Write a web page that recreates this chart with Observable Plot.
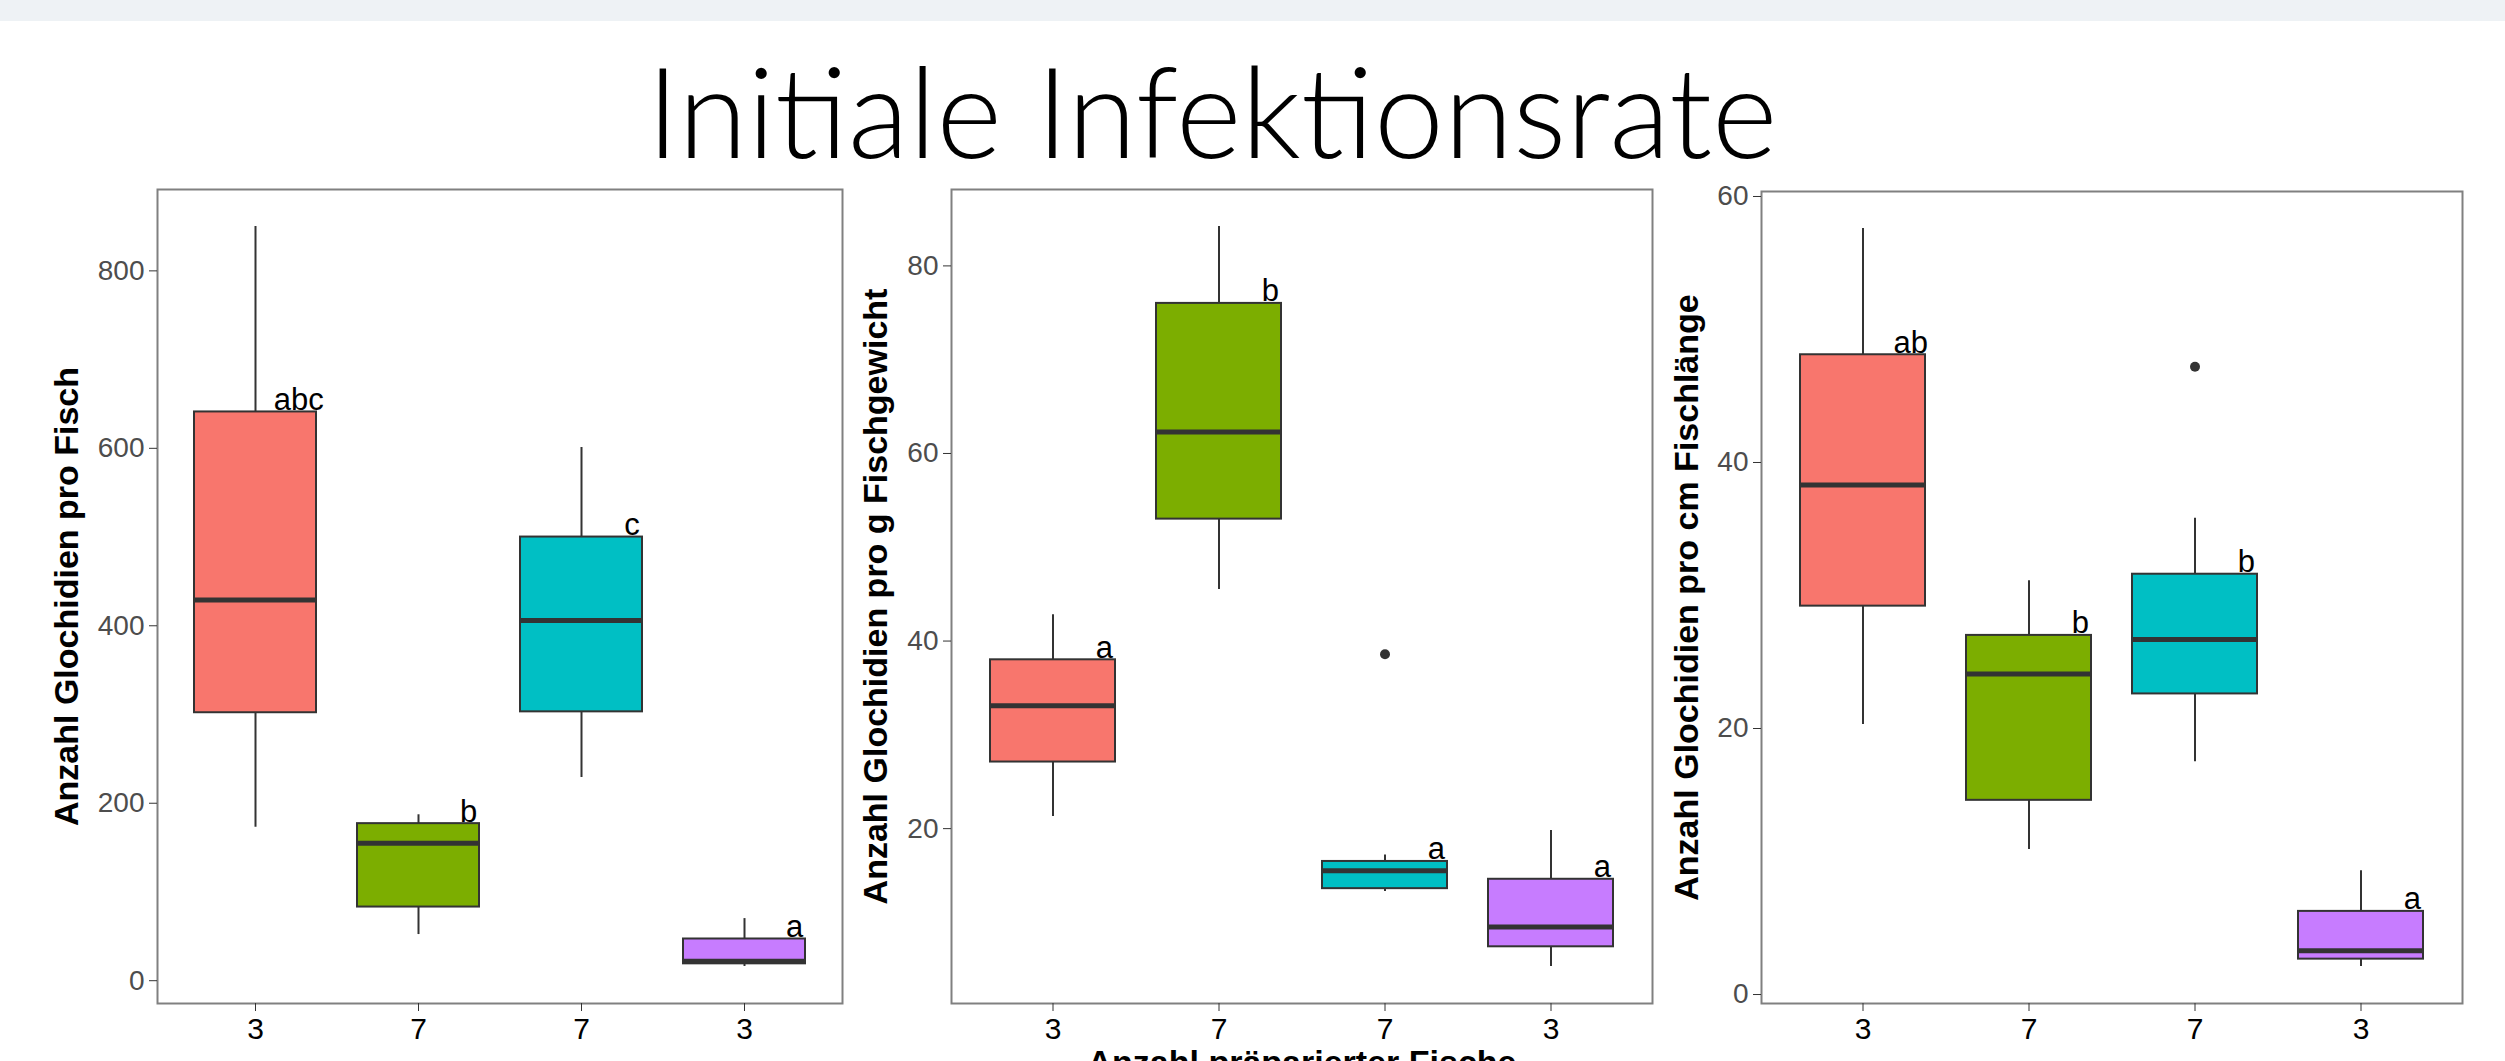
<!DOCTYPE html>
<html>
<head>
<meta charset="utf-8">
<script src="https://cdn.jsdelivr.net/npm/d3@7"></script>
<script src="https://cdn.jsdelivr.net/npm/@observablehq/plot@0.6"></script>
<style>
  html, body { margin: 0; padding: 0; background: #fff; }
  #page { position: relative; width: 2505px; height: 1061px; overflow: hidden; background: #fff; }
  #band { position: absolute; left: 0; top: 0; width: 2505px; height: 21px; background: #eef2f5; }
  #title { position: absolute; left: 0; top: 0; }
  .panel { position: absolute; top: 170px; }
</style>
</head>
<body>
<div id="page">
  <div id="band"></div>
  <svg id="title" width="2505" height="200"></svg>
  <div id="p1" class="panel" style="left:0px"></div>
  <div id="p2" class="panel" style="left:850px"></div>
  <div id="p3" class="panel" style="left:1660px"></div>
</div>
<script>
// ---------- data ----------
const chartTitle = "Initiale Infektionsrate";
const xTitle = "Anzahl präparierter Fische";
const groups = [0, 1, 2, 3];
const tickLabels = ["3", "7", "7", "3"];
const fillColors = ["#F8766D", "#7CAE00", "#00BFC4", "#C77CFF"];

// Panel 1: Anzahl Glochidien pro Fisch
const p1Title = "Anzahl Glochidien pro Fisch";
const p1Ticks = [0, 200, 400, 600, 800];
const p1Min = [173, 52, 229, 16];
const p1Q1  = [302, 83, 303, 19];
const p1Med = [429, 155, 406, 22];
const p1Q3  = [641, 177, 500, 47];
const p1Max = [850, 187, 601, 70];
const p1Letters = ["abc", "b", "c", "a"];
const p1OutGroup = [];
const p1OutValue = [];

// Panel 2: Anzahl Glochidien pro g Fischgewicht
const p2Title = "Anzahl Glochidien pro g Fischgewicht";
const p2Ticks = [20, 40, 60, 80];
const p2Min = [21.3, 45.5, 13.3, 5.3];
const p2Q1  = [27.1, 53.0, 13.6, 7.4];
const p2Med = [33.1, 62.3, 15.5, 9.5];
const p2Q3  = [38.0, 76.0, 16.5, 14.6];
const p2Max = [42.8, 84.2, 17.2, 19.8];
const p2Letters = ["a", "b", "a", "a"];
const p2OutGroup = [2];
const p2OutValue = [38.6];

// Panel 3: Anzahl Glochidien pro cm Fischlänge
const p3Title = "Anzahl Glochidien pro cm Fischlänge";
const p3Ticks = [0, 20, 40, 60];
const p3Min = [20.3, 10.9, 17.5, 2.1];
const p3Q1  = [29.2, 14.6, 22.6, 2.66];
const p3Med = [38.3, 24.1, 26.7, 3.3];
const p3Q3  = [48.1, 27.0, 31.6, 6.25];
const p3Max = [57.6, 31.1, 35.8, 9.3];
const p3Letters = ["ab", "b", "b", "a"];
const p3OutGroup = [2];
const p3OutValue = [47.2];

// ---------- title ----------
const ns = "http://www.w3.org/2000/svg";
const tsvg = document.getElementById("title");
const t = document.createElementNS(ns, "text");
t.setAttribute("x", 1212);
t.setAttribute("y", 158);
t.setAttribute("text-anchor", "middle");
t.setAttribute("font-family", "Lato, 'Liberation Sans', sans-serif");
t.setAttribute("font-weight", "300");
t.setAttribute("font-size", "127");
t.setAttribute("fill", "#000");
t.setAttribute("textLength", "1131");
t.setAttribute("lengthAdjust", "spacingAndGlyphs");
t.textContent = chartTitle;
tsvg.appendChild(t);

// ---------- panels ----------
const FONT = "'Liberation Sans', Arial, sans-serif";
const LETTER_SIZE = 31;
const ctx = document.createElement("canvas").getContext("2d");
ctx.font = `${LETTER_SIZE}px ${FONT}`;

function panel(o) {
  const rows = groups.map((g, i) => ({
    g, lo: o.min[i], q1: o.q1[i], med: o.med[i], q3: o.q3[i], hi: o.max[i],
    fill: fillColors[i], lab: o.letters[i]
  }));
  const outs = o.outGroup.map((g, i) => ({g, v: o.outValue[i]}));
  const all = [...o.min, ...o.max, ...o.outValue];
  const lo = d3.min(all), hi = d3.max(all), pad = (hi - lo) * 0.05;
  const frameW = o.width - o.marginLeft - o.marginRight;
  const step = frameW / 4.2;
  const marks = [
    Plot.frame({stroke: "#808080", strokeWidth: 2}),
    Plot.axisY({ticks: o.ticks, tickSize: 8, tickPadding: 5, fontSize: 28, fill: "#4d4d4d", stroke: "#333", label: null}),
    Plot.axisX({tickSize: 8, tickPadding: 6, fontSize: 30, fill: "#000", stroke: "#333", label: null, tickFormat: i => tickLabels[i]}),
    Plot.ruleX(rows, {x: "g", y1: "lo", y2: "hi", stroke: "#333", strokeWidth: 2}),
    Plot.barY(rows, {x: "g", y1: "q1", y2: "q3", fill: "fill", stroke: "#333", strokeWidth: 2}),
    Plot.tickY(rows, {x: "g", y: "med", stroke: "#333", strokeWidth: 5}),
    Plot.dot(outs, {x: "g", y: "v", r: 5, fill: "#333", stroke: null}),
    ...rows.map(r => Plot.text([r], {
      x: "g", y: "q3", text: "lab", textAnchor: "start", lineAnchor: "bottom",
      dx: step * 0.33 - 0.71 * ctx.measureText(r.lab).width, dy: -2,
      fontSize: LETTER_SIZE, fill: "#000"
    })),
    Plot.text([o.yTitle], {frameAnchor: "left", text: d => d, rotate: -90, dx: -o.yTitleOffset,
      textAnchor: "middle", lineAnchor: "middle", fontWeight: "bold", fontSize: 34, fill: "#000"})
  ];
  if (o.xTitle) {
    marks.push(Plot.text([o.xTitle], {frameAnchor: "bottom", text: d => d, dy: 46,
      textAnchor: "middle", lineAnchor: "top", fontWeight: "bold", fontSize: 34, fill: "#000"}));
  }
  return Plot.plot({
    width: o.width, height: 891,
    marginLeft: o.marginLeft, marginRight: o.marginRight, marginTop: o.marginTop, marginBottom: 58,
    style: {fontFamily: FONT, background: "transparent"},
    x: {domain: groups, paddingInner: 0.25, paddingOuter: 0.225, label: null},
    y: {domain: [lo - pad, hi + pad], label: null},
    color: {type: "identity"},
    marks
  });
}

document.getElementById("p1").appendChild(panel({
  width: 850, marginLeft: 157, marginRight: 8, marginTop: 19, yTitleOffset: 90,
  ticks: p1Ticks, min: p1Min, q1: p1Q1, med: p1Med, q3: p1Q3, max: p1Max,
  letters: p1Letters, outGroup: p1OutGroup, outValue: p1OutValue, yTitle: p1Title
}));
document.getElementById("p2").appendChild(panel({
  width: 810, marginLeft: 101, marginRight: 8, marginTop: 19, yTitleOffset: 75,
  ticks: p2Ticks, min: p2Min, q1: p2Q1, med: p2Med, q3: p2Q3, max: p2Max,
  letters: p2Letters, outGroup: p2OutGroup, outValue: p2OutValue, yTitle: p2Title, xTitle: xTitle
}));
document.getElementById("p3").appendChild(panel({
  width: 845, marginLeft: 101, marginRight: 43, marginTop: 21, yTitleOffset: 74,
  ticks: p3Ticks, min: p3Min, q1: p3Q1, med: p3Med, q3: p3Q3, max: p3Max,
  letters: p3Letters, outGroup: p3OutGroup, outValue: p3OutValue, yTitle: p3Title
}));
</script>
</body>
</html>
